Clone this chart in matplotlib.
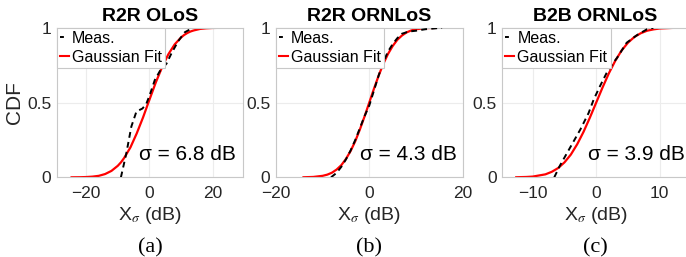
import matplotlib
matplotlib.use('Agg')
import matplotlib.pyplot as plt
from matplotlib.lines import Line2D

plt.rcParams['font.family'] = ['Liberation Sans', 'DejaVu Sans']
plt.rcParams['mathtext.fontset'] = 'stix'

titles = ['R2R OLoS', 'R2R ORNLoS', 'B2B ORNLoS']
captions = ['(a)', '(b)', '(c)']
sigma_labels = ['σ = 6.8 dB', 'σ = 4.3 dB', 'σ = 3.9 dB']
xticks = [[-20, 0, 20], [-20, 0, 20], [-10, 0, 10]]
xlims = [(-29.3, 29.7), (-20, 20), (-14.8, 14.6)]

meas_x_a = [-9.0, -8.9, -7.3, -5.7, -4.1, -2.2, -1.0, 0.1, 1.7, 3.3, 5.4, 7.0, 9.1, 11.2, 13.8]
meas_y_a = [0.0, 0.01, 0.16, 0.34, 0.44, 0.46, 0.49, 0.55, 0.65, 0.71, 0.76, 0.83, 0.91, 0.97, 1.0]
meas_x_b = [-8.2, -7.0, -6.0, -5.0, -4.0, -3.0, -2.0, -1.0, 0.0, 1.0, 2.0, 3.0, 4.0, 5.0,
            6.0, 7.0, 8.5, 10.0, 12.0, 15.6]
meas_y_b = [0.0, 0.03, 0.07, 0.12, 0.18, 0.25, 0.33, 0.41, 0.48, 0.58, 0.68, 0.77, 0.84, 0.89,
            0.93, 0.96, 0.975, 0.98, 0.99, 1.0]
meas_x_c = [-6.6, -6.5, -5.7, -4.1, -2.5, -1.2, -0.4, 0.6, 1.9, 3.3, 4.8, 6.4, 8.0, 9.0]
meas_y_c = [0.0, 0.01, 0.08, 0.20, 0.32, 0.43, 0.52, 0.61, 0.72, 0.80, 0.90, 0.95, 0.99, 1.0]

# gaussian fit (red)
fit_x_a = [-24.6, -22, -20, -18, -16, -14, -12, -10, -9, -8, -6, -4, -2, 0, 2, 4, 6, 8,
           10, 11, 12, 13, 14, 16, 18, 20, 23, 27.3]
fit_y_a = [0.0002, 0.0007, 0.002, 0.0047, 0.010, 0.022, 0.043, 0.077, 0.100, 0.129, 0.200,
           0.294, 0.401, 0.518, 0.633, 0.736, 0.823, 0.889, 0.935, 0.952, 0.965, 0.975,
           0.982, 0.992, 0.9964, 0.9986, 0.9997, 1.0]
fit_x_b = [-14.1, -12, -10, -9, -8, -7, -6, -5, -4, -3, -2, -1, 0, 1, 2, 3, 4, 5, 6, 7,
           8, 9, 10, 12, 15.6]
fit_y_b = [0.0005, 0.0026, 0.010, 0.018, 0.031, 0.052, 0.081, 0.123, 0.176, 0.242, 0.321,
           0.408, 0.5, 0.592, 0.679, 0.758, 0.824, 0.877, 0.919, 0.948, 0.969, 0.982,
           0.990, 0.9974, 0.9999]
fit_x_c = [-12.6, -11, -10, -8, -7, -6, -5, -4, -3, -2, -1, 0, 1, 2, 3, 4, 5, 6, 7, 8,
           9, 10, 12, 15]
fit_y_c = [0.0006, 0.0024, 0.005, 0.020, 0.037, 0.062, 0.100, 0.152, 0.221, 0.304, 0.399,
           0.5, 0.601, 0.696, 0.779, 0.848, 0.900, 0.938, 0.963, 0.980, 0.989, 0.995,
           0.999, 1.0]

meas_x = [meas_x_a, meas_x_b, meas_x_c]
meas_y = [meas_y_a, meas_y_b, meas_y_c]
fit_x = [fit_x_a, fit_x_b, fit_x_c]
fit_y = [fit_y_a, fit_y_b, fit_y_c]

lefts = [0.0827, 0.4023, 0.7322]
sigma_pos = [0.441, 0.451, 0.462]
edge = '#c8c8c8'
txt = '#262626'

fig = plt.figure(figsize=(6.86, 2.57), dpi=100)

for i in range(3):
    ax = fig.add_axes([lefts[i], 0.310, 0.272, 0.582])
    ax.plot(fit_x[i], fit_y[i], color='red', lw=1.6, zorder=2)
    ax.plot(meas_x[i], meas_y[i], color='black', lw=1.4, dashes=(3.0, 2.2), zorder=3)
    ax.set_xlim(xlims[i])
    ax.set_ylim(0, 1)
    ax.set_xticks(xticks[i])
    ax.set_yticks([0, 0.5, 1])
    ax.set_yticklabels(['0', '0.5', '1'])
    ax.grid(True, color='#ececec', lw=0.8)
    ax.set_axisbelow(True)
    for s in ax.spines.values():
        s.set_color(edge)
        s.set_linewidth(0.8)
    ax.tick_params(length=0, labelsize=12.5, labelcolor=txt)
    ax.tick_params(axis='x', pad=6)
    ax.tick_params(axis='y', pad=4)
    ax.set_title(titles[i], fontsize=14, fontweight='bold', pad=5)
    ax.set_xlabel(r'X$_{\sigma}$ (dB)', fontsize=14, color=txt, labelpad=3)
    if i == 0:
        ax.set_ylabel('CDF', fontsize=15, color=txt, labelpad=2)
    ax.text(sigma_pos[i], 0.15, sigma_labels[i], transform=ax.transAxes,
            fontsize=15, va='center', ha='left', color='black')

    handles = [Line2D([], [], color='black', lw=1.4, dashes=(2.0, 20)),
               Line2D([], [], color='red', lw=1.5)]
    leg = ax.legend(handles, ['Meas.', 'Gaussian Fit'], loc='upper left',
                    bbox_to_anchor=(0, 1), borderaxespad=0, fontsize=11.5,
                    handlelength=0.55, handletextpad=0.2, borderpad=0.2,
                    labelspacing=0.25, fancybox=False, framealpha=1)
    leg.get_frame().set_edgecolor(edge)
    leg.get_frame().set_linewidth(0.8)

    fig.text(lefts[i] + 0.136, 0.035, captions[i], fontsize=16,
             family='Liberation Serif', ha='center', va='center')

fig.savefig('out.png', dpi=100)
